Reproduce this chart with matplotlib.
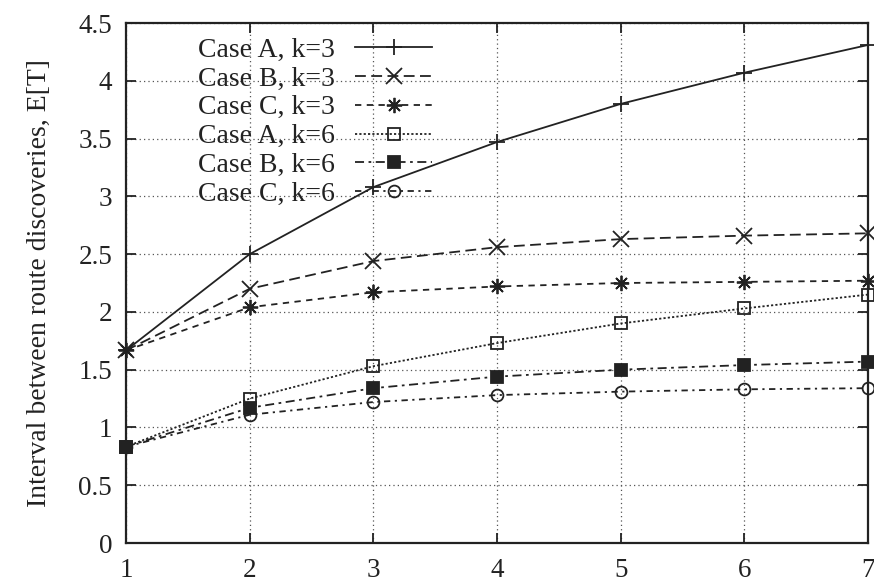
import numpy as np
import matplotlib
matplotlib.use("Agg")
import matplotlib.pyplot as plt

plt.rcParams['font.family'] = ['Liberation Serif', 'DejaVu Serif']

# number of hops
hops = [1, 2, 3, 4, 5, 6, 7]

# expected interval between route discoveries
case_a_k3 = [1.667, 2.50, 3.08, 3.47, 3.80, 4.07, 4.31]
case_b_k3 = [1.667, 2.20, 2.44, 2.56, 2.63, 2.66, 2.68]
case_c_k3 = [1.667, 2.04, 2.17, 2.22, 2.25, 2.26, 2.27]
case_a_k6 = [0.833, 1.25, 1.53, 1.73, 1.90, 2.03, 2.15]
case_b_k6 = [0.833, 1.17, 1.34, 1.44, 1.50, 1.54, 1.57]
case_c_k6 = [0.833, 1.11, 1.22, 1.28, 1.31, 1.33, 1.34]

labels = ["Case A, k=3", "Case B, k=3", "Case C, k=3",
          "Case A, k=6", "Case B, k=6", "Case C, k=6"]

ink = "#222222"

fig = plt.figure(figsize=(8.74, 5.83), dpi=100)
ax = fig.add_axes([0.1442, 0.0686, 0.8489, 0.8919])

# open markers are hollow, like gnuplot's
series = [
    (case_a_k3, '-', '+', 'none'),
    (case_b_k3, (0, (6, 3)), 'x', 'none'),
    (case_c_k3, (0, (3.5, 3)), (8, 2, 0), 'none'),
    (case_a_k6, (0, (1.2, 1.2)), 's', 'none'),
    (case_b_k6, (0, (5, 2.5, 1.5, 2.5)), 's', ink),
    (case_c_k6, (0, (3.5, 2.5, 1.2, 2.5)), 'o', 'none'),
]

for (vals, ls, mk, fc), lab in zip(series, labels):
    ms = 11 if mk in ('+', 'x') or isinstance(mk, tuple) else 8.5
    ax.plot(hops, vals, linestyle=ls, marker=mk, markersize=ms,
            markerfacecolor=fc, markeredgecolor=ink, markeredgewidth=1.3,
            color=ink, linewidth=1.3, label=lab, clip_on=False, zorder=3)

ax.set_xlim(1, 7)
ax.set_ylim(0, 4.5)
ax.set_xticks(hops)
ax.set_yticks(np.arange(0, 4.51, 0.5))
ax.set_yticklabels(["0", "0.5", "1", "1.5", "2", "2.5", "3", "3.5", "4", "4.5"])

ax.grid(True, linestyle=(0, (1, 2.5)), color="#555555", linewidth=0.9)
ax.tick_params(direction='in', length=7, width=1.3, top=True, right=True,
               labelsize=19.5, colors=ink)
ax.tick_params(axis='x', pad=11)
ax.tick_params(axis='y', pad=10)
for sp in ax.spines.values():
    sp.set_linewidth(1.6)
    sp.set_color(ink)

ax.set_ylabel("Interval between route discoveries, E[T]", fontsize=20,
              color=ink, labelpad=19)

leg = ax.legend(loc='upper right', bbox_to_anchor=(0.413, 0.973),
                frameon=False, markerfirst=False, fontsize=20,
                handlelength=2.8, handletextpad=0.7, labelspacing=0.125,
                borderpad=0, borderaxespad=0)
for t in leg.get_texts():
    t.set_color(ink)

fig.savefig("out.png", dpi=100, facecolor="white")
